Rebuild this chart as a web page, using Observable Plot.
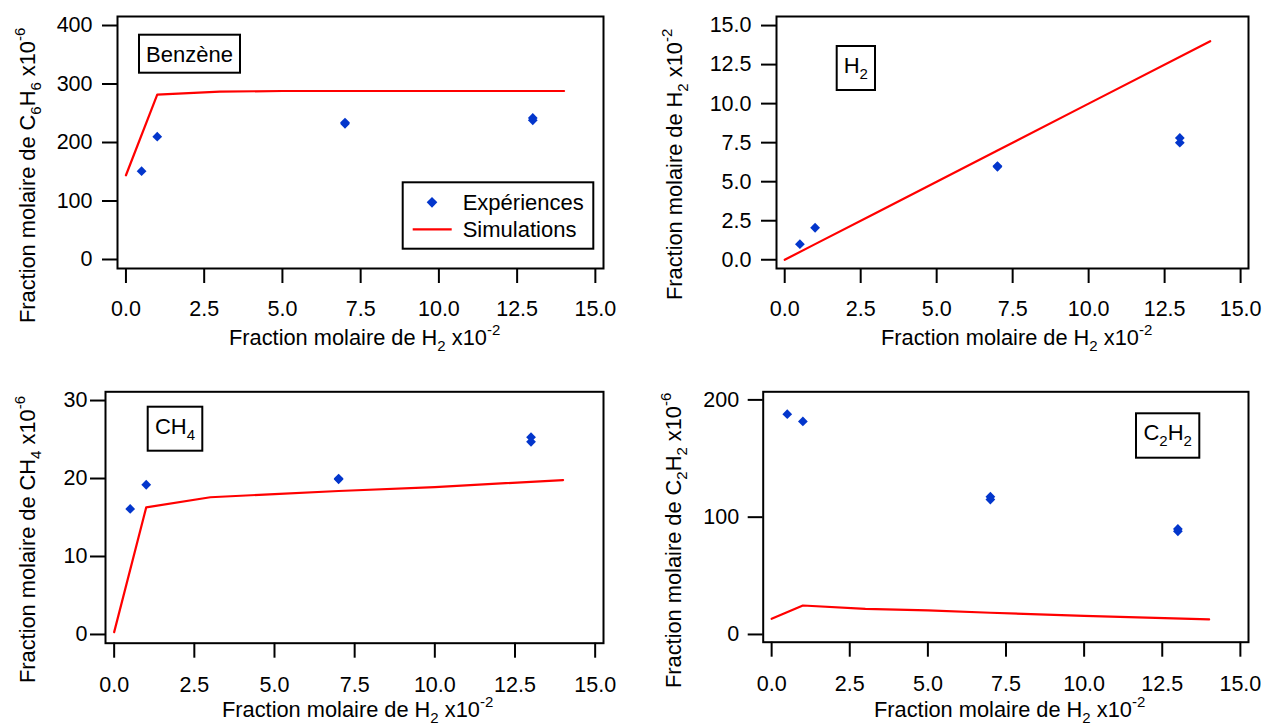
<!DOCTYPE html>
<html>
<head>
<meta charset="utf-8">
<script src="https://cdn.jsdelivr.net/npm/d3@7"></script>
<script src="https://cdn.jsdelivr.net/npm/@observablehq/plot@0.6"></script>
<style>
  html, body { margin: 0; padding: 0; background: white; }
  #root { position: relative; width: 1264px; height: 727px; overflow: hidden; background: white; }
  .panel { position: absolute; }
  #overlay { position: absolute; left: 0; top: 0; pointer-events: none; }
</style>
</head>
<body>
<div id="root"></div>
<script>
// ---------------- DATA ----------------
const xExp = [0.5, 1, 7, 7, 13, 13];
const benzeneExp = [151, 210, 232, 234, 238, 242];
const h2Exp = [1.0, 2.05, 5.95, 6.0, 7.5, 7.8];
const ch4Exp = [16.1, 19.2, 19.9, 20.0, 24.7, 25.3];
const c2h2Exp = [187.8, 181.6, 115, 117.5, 88, 90];

const xSim = [0, 1, 3, 5, 7, 10, 14];
const benzeneSim = [144, 282, 287, 288, 288, 288, 288];
const h2Sim = [0, 1, 3, 5, 7, 10, 14];
const ch4Sim = [0.3, 16.3, 17.6, 18.0, 18.4, 18.9, 19.8];
const c2h2Sim = [13.4, 24.7, 21.8, 20.5, 18.5, 15.8, 12.8];

const xTicks = [0, 2.5, 5, 7.5, 10, 12.5, 15];
const benzeneTicks = [0, 100, 200, 300, 400];
const h2Ticks = [0, 2.5, 5, 7.5, 10, 12.5, 15];
const ch4Ticks = [0, 10, 20, 30];
const c2h2Ticks = [0, 100, 200];

const seriesNames = ["Expériences", "Simulations"];

// ---------------- STYLE ----------------
const FONT = "'Liberation Sans', Arial, Helvetica, sans-serif";
const BLUE = "#0336cc";
const RED = "#ff0000";

const root = document.getElementById("root");

function panel({left, top, w, h, mL, mR, mT, mB, yDomain, yTicks, yFmt, xPad, yPad, ys, ysim}) {
  const exp = xExp.map((x, i) => ({x, y: ys[i]}));
  const sim = xSim.map((x, i) => ({x, y: ysim[i]}));
  const chart = Plot.plot({
    width: w, height: h,
    marginLeft: mL, marginRight: mR, marginTop: mT, marginBottom: mB,
    style: {fontFamily: FONT, fontSize: "21.5px", color: "black", background: "transparent", overflow: "visible"},
    x: {domain: [-0.27, 15.26]},
    y: {domain: yDomain},
    marks: [
      Plot.line(sim, {x: "x", y: "y", stroke: RED, strokeWidth: 2.2}),
      Plot.dot(exp, {x: "x", y: "y", symbol: "diamond2", r: 4.4, fill: BLUE, stroke: "none"}),
      Plot.frame({stroke: "black", strokeWidth: 2}),
      Plot.axisX({ticks: xTicks, tickFormat: d => d.toFixed(1), tickSize: 15, tickPadding: xPad, strokeWidth: 2, label: null, fill: "black"}),
      Plot.axisY({ticks: yTicks, tickFormat: yFmt, tickSize: 15, tickPadding: yPad, strokeWidth: 2, label: null, fill: "black"})
    ]
  });
  const d = document.createElement("div");
  d.className = "panel";
  d.style.left = left + "px";
  d.style.top = top + "px";
  d.appendChild(chart);
  root.appendChild(d);
}

const f1 = d => d.toFixed(1);
const f0 = d => d.toFixed(0);

panel({left: 0, top: 0, w: 632, h: 363, mL: 117, mR: 29, mT: 16, mB: 95,
  yDomain: [-15.4, 415.4], yTicks: benzeneTicks, yFmt: f0, xPad: 17, yPad: 10, ys: benzeneExp, ysim: benzeneSim});
panel({left: 632, top: 0, w: 632, h: 363, mL: 144, mR: 16, mT: 16, mB: 95,
  yDomain: [-0.56, 15.58], yTicks: h2Ticks, yFmt: f1, xPad: 17, yPad: 10, ys: h2Exp, ysim: h2Sim});
panel({left: 0, top: 363, w: 632, h: 364, mL: 105, mR: 29, mT: 28.3, mB: 84.3,
  yDomain: [-1.12, 31.12], yTicks: ch4Ticks, yFmt: f0, xPad: 19, yPad: 3, ys: ch4Exp, ysim: ch4Sim});
panel({left: 632, top: 363, w: 632, h: 364, mL: 130.7, mR: 16, mT: 28.3, mB: 85.3,
  yDomain: [-6.6, 206.9], yTicks: c2h2Ticks, yFmt: f0, xPad: 19, yPad: 9, ys: c2h2Exp, ysim: c2h2Sim});

// ---------------- ANNOTATIONS ----------------
const svg = d3.select(root).append("svg")
  .attr("id", "overlay").attr("width", 1264).attr("height", 727)
  .style("font-family", FONT);

function rich(g, parts, size, anchor) {
  const t = g.append("text").attr("font-size", size).attr("fill", "black").attr("text-anchor", anchor || "start");
  let shift = 0;
  parts.forEach(([s, kind]) => {
    let target = 0, fs = size;
    if (kind === "sub") { target = 6; fs = 15; }
    if (kind === "sup") { target = -10; fs = 15; }
    t.append("tspan").attr("dy", target - shift).attr("font-size", fs).text(s);
    shift = target;
  });
  return t;
}

// x-axis labels
const xLabel = [["Fraction molaire de H", ""], ["2", "sub"], [" x10", ""], ["-2", "sup"]];
[[229, 345], [881, 345], [222, 717], [874, 717]].forEach(([x, y]) => {
  rich(svg.append("g").attr("transform", `translate(${x},${y})`), xLabel, 21.8);
});

// y-axis labels
const yLabels = [
  {x: 35, y: 323, parts: [["Fraction molaire de C", ""], ["6", "sub"], ["H", ""], ["6", "sub"], [" x10", ""], ["-6", "sup"]]},
  {x: 682, y: 300, parts: [["Fraction molaire de H", ""], ["2", "sub"], [" x10", ""], ["-2", "sup"]]},
  {x: 35, y: 683, parts: [["Fraction molaire de CH", ""], ["4", "sub"], [" x10", ""], ["-6", "sup"]]},
  {x: 681, y: 688, parts: [["Fraction molaire de C", ""], ["2", "sub"], ["H", ""], ["2", "sub"], [" x10", ""], ["-6", "sup"]]}
];
yLabels.forEach(l => {
  rich(svg.append("g").attr("transform", `translate(${l.x},${l.y}) rotate(-90)`), l.parts, 21.8);
});

// species boxes
const boxes = [
  {x0: 139, x1: 240, y0: 34.7, y1: 72.7, parts: [["Benzène", ""]]},
  {x0: 836.7, x1: 875, y0: 46, y1: 90, parts: [["H", ""], ["2", "sub"]]},
  {x0: 147.7, x1: 202.3, y0: 406.7, y1: 450.7, parts: [["CH", ""], ["4", "sub"]]},
  {x0: 1136, x1: 1199.3, y0: 413.3, y1: 457.7, parts: [["C", ""], ["2", "sub"], ["H", ""], ["2", "sub"]]}
];
boxes.forEach(b => {
  svg.append("rect").attr("x", b.x0).attr("y", b.y0).attr("width", b.x1 - b.x0).attr("height", b.y1 - b.y0)
    .attr("fill", "white").attr("stroke", "black").attr("stroke-width", 2);
  const hasSub = b.parts.some(p => p[1] === "sub");
  const cy = (b.y0 + b.y1) / 2 + 7.8 - (hasSub ? 3 : 0);
  rich(svg.append("g").attr("transform", `translate(${(b.x0 + b.x1) / 2},${cy})`), b.parts, 22, "middle");
});

// legend
svg.append("rect").attr("x", 402.7).attr("y", 182.3).attr("width", 190.6).attr("height", 66.4)
  .attr("fill", "white").attr("stroke", "black").attr("stroke-width", 2);
svg.append("path").attr("transform", "translate(432,202.3)")
  .attr("d", d3.symbol(d3.symbolDiamond2, Math.PI * 4.8 * 4.8)()).attr("fill", BLUE);
svg.append("line").attr("x1", 412.7).attr("x2", 451.7).attr("y1", 229.3).attr("y2", 229.3)
  .attr("stroke", RED).attr("stroke-width", 2.2);
svg.append("text").attr("x", 462.7).attr("y", 210).attr("font-size", 22).attr("fill", "black").text(seriesNames[0]);
svg.append("text").attr("x", 462.7).attr("y", 236.7).attr("font-size", 22).attr("fill", "black").text(seriesNames[1]);
</script>
</body>
</html>
